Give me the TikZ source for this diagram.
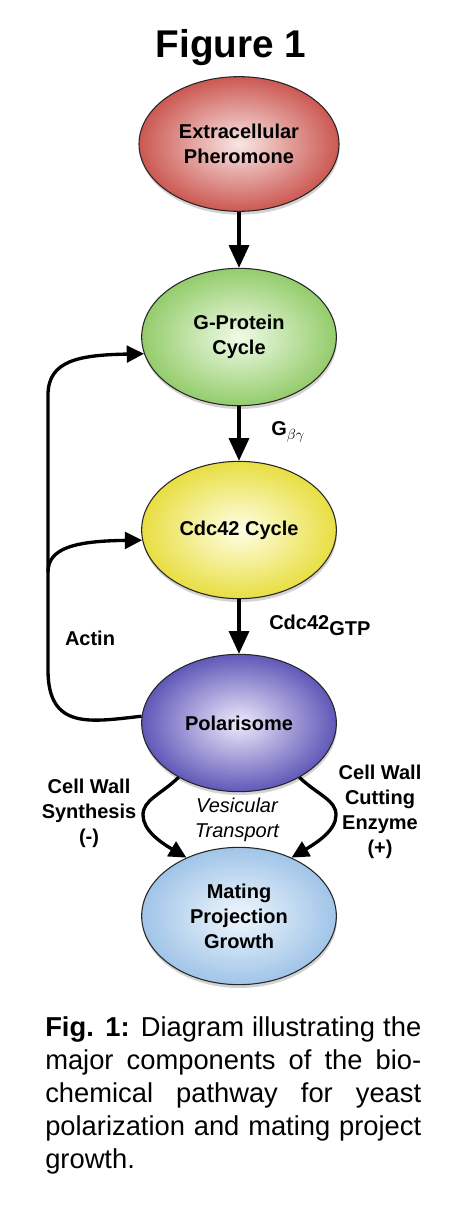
\documentclass[tikz,border=0pt]{standalone}
\usepackage{fontspec}
\setmainfont{Liberation Sans}
\usetikzlibrary{arrows.meta,shapes.geometric,shadows}
\definecolor{redO}{RGB}{204,88,82}
\definecolor{redI}{RGB}{248,230,228}
\definecolor{greenO}{RGB}{148,204,108}
\definecolor{greenI}{RGB}{240,251,230}
\definecolor{yellowO}{RGB}{232,222,66}
\definecolor{yellowI}{RGB}{255,255,230}
\definecolor{purpleO}{RGB}{96,88,184}
\definecolor{purpleI}{RGB}{238,234,252}
\definecolor{blueO}{RGB}{160,196,232}
\definecolor{blueI}{RGB}{240,247,253}
\begin{document}
\begin{tikzpicture}[x=0.75pt,y=-0.75pt,
  ell/.style={ellipse, draw=black!85, line width=0.8pt,
    minimum width=146pt, minimum height=103pt, inner sep=0pt, align=center,
    font=\fontsize{15}{18.75}\selectfont\bfseries,
    drop shadow={shadow xshift=0.5pt, shadow yshift=-2.5pt, opacity=0.35}},
  lab/.style={align=center, inner sep=0pt, font=\fontsize{15}{18.75}\selectfont\bfseries},
  arr/.style={line width=2.5pt, -{Triangle[width=15pt,length=17pt]}},
  carr/.style={line width=2.5pt, -{Triangle[width=12.5pt,length=13pt]}}]
\useasboundingbox (0,0) rectangle (474,1206);
\node[anchor=base, font=\fontsize{29}{35}\selectfont\bfseries] (T) at (231,58) {Figure 1};
\node[ell, minimum width=150pt, minimum height=101pt, inner color=redI, outer color=redO] (E) at (239,144) {Extracellular\\Pheromone};
\node[ell, inner color=greenI, outer color=greenO] (G) at (239,337) {G-Protein\\Cycle};
\node[ell, inner color=yellowI, outer color=yellowO] (C) at (239,530) {Cdc42 Cycle};
\node[ell, inner color=purpleI, outer color=purpleO] (P) at (239,723) {Polarisome};
\node[ell, inner color=blueI, outer color=blueO] (B) at (239,916) {Mating\\Projection\\Growth};
\draw[arr] (E) -- (G);
\draw[arr] (G) -- (C);
\draw[arr] (C) -- (P);
\node[lab, anchor=west] (gbg) at (271,432) {G$_{\beta\gamma}$};
\node[lab, anchor=west] (cdc) at (269,625) {Cdc42\raisebox{-4.5pt}{GTP}};
\node[lab] (actin) at (90,638) {Actin};
\coordinate (jn) at (48,572);
\draw[carr] (P.176) .. controls (90,722) and (48,730) .. (48,670) -- (jn) -- (48,395) .. controls (48,360) and (80,355) .. (G.190);
\draw[carr] (jn) .. controls (48,548) and (75,541) .. (C.186);
\draw[carr] (P.222) .. controls (160,795) and (143,800) .. (143,815) .. controls (143,830) and (160,842) .. (B.132);
\draw[carr] (P.318) .. controls (318,795) and (336,800) .. (336,815) .. controls (336,830) and (318,842) .. (B.48);
\node[lab] (cws) at (89,813) {Cell Wall\\Synthesis\\(-)};
\node[lab] (cwc) at (380,812) {Cell Wall\\Cutting\\Enzyme\\(+)};
\node[lab, font=\fontsize{15}{18.75}\selectfont\itshape] (vt) at (237,820) {Vesicular\\Transport};
\node[anchor=north west, inner sep=0pt, text width=282pt, align=justify, font=\fontsize{20.5}{24.75}\selectfont] (cap) at (45,1016)
 {\textbf{Fig. 1:} Diagram illustrating the\linebreak major components of the bio-\linebreak chemical pathway for yeast\linebreak polarization and mating project\linebreak growth.};
\end{tikzpicture}
\end{document}
